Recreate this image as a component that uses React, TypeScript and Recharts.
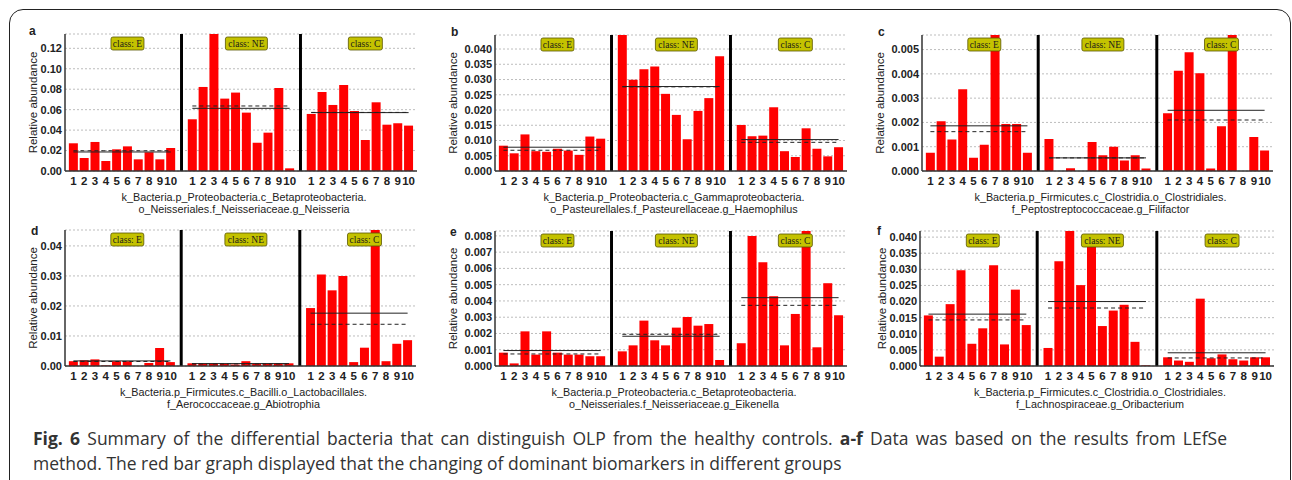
import { BarChart, Bar, XAxis, YAxis, CartesianGrid, ReferenceLine } from 'recharts';

const classes = ['E', 'NE', 'C'];
const sampleLabels = ['1', '2', '3', '4', '5', '6', '7', '8', '9', '10'];

// a — Neisseria
const neisseriaE = [0.0271, 0.0127, 0.0284, 0.0098, 0.0212, 0.0241, 0.0114, 0.0183, 0.0114, 0.0225];
const neisseriaNE = [0.0506, 0.0822, 0.14, 0.0708, 0.0767, 0.0571, 0.0277, 0.0375, 0.0812, 0.0026];
const neisseriaC = [0.0558, 0.0773, 0.0646, 0.0842, 0.0587, 0.0303, 0.0672, 0.0453, 0.0467, 0.0444];
const neisseriaMean = [0.0186, 0.0613, 0.0571];
const neisseriaMedian = [0.0198, 0.0636, 0.0573];
const neisseriaTicks = [0, 0.02, 0.04, 0.06, 0.08, 0.1, 0.12];

// b — Haemophilus
const haemophilusE = [0.0083, 0.0058, 0.012, 0.0065, 0.0063, 0.0073, 0.0067, 0.0053, 0.0113, 0.0106];
const haemophilusNE = [0.046, 0.0299, 0.0334, 0.0343, 0.0253, 0.0184, 0.0104, 0.0197, 0.0239, 0.0376];
const haemophilusC = [0.0151, 0.0114, 0.0116, 0.0209, 0.0065, 0.0046, 0.014, 0.0073, 0.0048, 0.0078];
const haemophilusMean = [0.0078, 0.0277, 0.0103];
const haemophilusMedian = [0.0068, 0.0276, 0.0094];
const haemophilusTicks = [0, 0.005, 0.01, 0.015, 0.02, 0.025, 0.03, 0.035, 0.04];

// c — Filifactor
const filifactorE = [0.00075, 0.00205, 0.0013, 0.00337, 0.00055, 0.00108, 0.0058, 0.00194, 0.00194, 0.00075];
const filifactorNE = [0.00132, 0, 0.00011, 0, 0.00119, 0.00065, 0.001, 0.00043, 0.00065, 0.0001];
const filifactorC = [0.00238, 0.00413, 0.00489, 0.00403, 0.0001, 0.00184, 0.0058, 0, 0.0014, 0.00084];
const filifactorMean = [0.00186, 0.00054, 0.0025];
const filifactorMedian = [0.00162, 0.00054, 0.0021];
const filifactorTicks = [0, 0.001, 0.002, 0.003, 0.004, 0.005];

// d — Abiotrophia
const abiotrophiaE = [0.0016, 0.0019, 0.0022, 0.0002, 0.0016, 0.0016, 0, 0.001, 0.006, 0.0013];
const abiotrophiaNE = [0.0009, 0.0008, 0.0008, 0.0007, 0.0005, 0.0016, 0.0008, 0.0008, 0.0009, 0.0009];
const abiotrophiaC = [0.0193, 0.0305, 0.0252, 0.03, 0.0013, 0.0061, 0.047, 0.0016, 0.0074, 0.0086];
const abiotrophiaMean = [0.0017, 0.0008, 0.0176];
const abiotrophiaMedian = [0.0015, 0.0007, 0.0139];
const abiotrophiaTicks = [0, 0.01, 0.02, 0.03, 0.04];

// e — Eikenella
const eikenellaE = [0.00082, 0.00016, 0.00213, 0.0007, 0.00213, 0.00082, 0.0007, 0.0007, 0.0006, 0.0006];
const eikenellaNE = [0.0009, 0.00127, 0.00279, 0.00158, 0.00127, 0.00236, 0.00302, 0.00248, 0.00258, 0.00037];
const eikenellaC = [0.0014, 0.008, 0.00638, 0.00429, 0.00127, 0.0032, 0.0085, 0.00115, 0.00509, 0.00312];
const eikenellaMean = [0.00095, 0.00183, 0.0042];
const eikenellaMedian = [0.00074, 0.00195, 0.00373];
const eikenellaTicks = [0, 0.001, 0.002, 0.003, 0.004, 0.005, 0.006, 0.007, 0.008];

// f — Oribacterium
const oribacteriumE = [0.0157, 0.0029, 0.0192, 0.0297, 0.0069, 0.0117, 0.0313, 0.0067, 0.0237, 0.0127];
const oribacteriumNE = [0.0056, 0.0325, 0.043, 0.0251, 0.0376, 0.0124, 0.0172, 0.019, 0.0075, 0.0002];
const oribacteriumC = [0.0027, 0.0017, 0.0013, 0.0209, 0.0024, 0.0036, 0.0021, 0.0017, 0.0027, 0.0027];
const oribacteriumMean = [0.0161, 0.02, 0.0041];
const oribacteriumMedian = [0.0143, 0.018, 0.0025];
const oribacteriumTicks = [0, 0.005, 0.01, 0.015, 0.02, 0.025, 0.03, 0.035, 0.04];

const SANS = '"Liberation Sans", Arial, sans-serif';
const AXIS_W = 60;
const TOP_M = 4;
const XAXIS_H = 22;
const tagWidths: Record<string, number> = { E: 33, NE: 42, C: 34 };

type Panel = {
  letter: string;
  left: number;
  top: number;
  width: number;
  height: number;
  yMax: number;
  ticks: number[];
  digits: number;
  titleGap: number;
  letterGap: number;
  letterDy: number;
  values: number[][];
  mean: number[];
  median: number[];
  taxon: [string, string];
};

const panels: Panel[] = [
  { letter: 'a', left: 65, top: 34, width: 352, height: 137, yMax: 0.134, ticks: neisseriaTicks, digits: 2, titleGap: 32, letterGap: 32, letterDy: -3,
    values: [neisseriaE, neisseriaNE, neisseriaC], mean: neisseriaMean, median: neisseriaMedian,
    taxon: ['k_Bacteria.p_Proteobacteria.c_Betaproteobacteria.', 'o_Neisseriales.f_Neisseriaceae.g_Neisseria'] },
  { letter: 'b', left: 495, top: 35, width: 352, height: 136, yMax: 0.0446, ticks: haemophilusTicks, digits: 3, titleGap: 42, letterGap: 40, letterDy: -3,
    values: [haemophilusE, haemophilusNE, haemophilusC], mean: haemophilusMean, median: haemophilusMedian,
    taxon: ['k_Bacteria.p_Proteobacteria.c_Gammaproteobacteria.', 'o_Pasteurellales.f_Pasteurellaceae.g_Haemophilus'] },
  { letter: 'c', left: 922, top: 35, width: 351, height: 136, yMax: 0.0056, ticks: filifactorTicks, digits: 3, titleGap: 42, letterGap: 40, letterDy: -3,
    values: [filifactorE, filifactorNE, filifactorC], mean: filifactorMean, median: filifactorMedian,
    taxon: ['k_Bacteria.p_Firmicutes.c_Clostridia.o_Clostridiales.', 'f_Peptostreptococcaceae.g_Filifactor'] },
  { letter: 'd', left: 65, top: 230, width: 351, height: 136, yMax: 0.0453, ticks: abiotrophiaTicks, digits: 2, titleGap: 32, letterGap: 30, letterDy: 1,
    values: [abiotrophiaE, abiotrophiaNE, abiotrophiaC], mean: abiotrophiaMean, median: abiotrophiaMedian,
    taxon: ['k_Bacteria.p_Firmicutes.c_Bacilli.o_Lactobacillales.', 'f_Aerococcaceae.g_Abiotrophia'] },
  { letter: 'e', left: 495, top: 231, width: 352, height: 135, yMax: 0.0083, ticks: eikenellaTicks, digits: 3, titleGap: 42, letterGap: 41, letterDy: 1,
    values: [eikenellaE, eikenellaNE, eikenellaC], mean: eikenellaMean, median: eikenellaMedian,
    taxon: ['k_Bacteria.p_Proteobacteria.c_Betaproteobacteria.', 'o_Neisseriales.f_Neisseriaceae.g_Eikenella'] },
  { letter: 'f', left: 920, top: 231, width: 354, height: 135, yMax: 0.0419, ticks: oribacteriumTicks, digits: 3, titleGap: 38, letterGap: 39, letterDy: 0,
    values: [oribacteriumE, oribacteriumNE, oribacteriumC], mean: oribacteriumMean, median: oribacteriumMedian,
    taxon: ['k_Bacteria.p_Firmicutes.c_Clostridia.o_Clostridiales.', 'f_Lachnospiraceae.g_Oribacterium'] },
];

type Row = { key: string; label: string; value: number | null };

function buildRows(values: number[][]): Row[] {
  const rows: Row[] = [];
  values.forEach((list, ci) => {
    if (ci > 0) rows.push({ key: `gap${ci}`, label: '', value: null });
    list.forEach((v, i) => rows.push({ key: `${classes[ci]}${i + 1}`, label: sampleLabels[i], value: v }));
  });
  return rows;
}

function ClassTag(props: any) {
  const { viewBox, cls } = props;
  if (!viewBox) return null;
  const w = tagWidths[cls];
  const cx = viewBox.x;
  const y = viewBox.y + 3;
  return (
    <g>
      <rect x={cx - w / 2} y={y} width={w} height={13} rx={2} fill="#c4c200" stroke="#595600" strokeWidth={0.8} />
      <text x={cx} y={y + 7} textAnchor="middle" dominantBaseline="central"
        fontFamily='"Liberation Serif", serif' fontSize={9.5} fill="#1a1a1a">{`class: ${cls}`}</text>
    </g>
  );
}

function YTitle(props: any) {
  const { viewBox, gap } = props;
  if (!viewBox) return null;
  const x = viewBox.x + viewBox.width - gap;
  const y = viewBox.y + viewBox.height / 2;
  return (
    <text x={x} y={y} transform={`rotate(-90 ${x} ${y})`} textAnchor="middle" dominantBaseline="central"
      fontFamily={SANS} fontSize={11.5} fill="#222">Relative abundance</text>
  );
}

function PanelChart({ p }: { p: Panel }) {
  const rows = buildRows(p.values);
  const labelByKey: Record<string, string> = {};
  rows.forEach((r) => (labelByKey[r.key] = r.label));
  const frame = { stroke: '#333', strokeWidth: 1.5 };
  const center = p.left + p.width / 2 + 3;
  const taxonTop = p.top + p.height + 20;

  return (
    <>
      <div style={{ position: 'absolute', left: p.left - p.letterGap - 4, top: p.top + p.letterDy - 7, fontFamily: SANS, fontWeight: 'bold', fontSize: 12, lineHeight: '14px', color: '#222' }}>
        {p.letter}
      </div>
      <div style={{ position: 'absolute', left: p.left - AXIS_W, top: p.top - TOP_M }}>
        <BarChart width={p.width + AXIS_W + 2} height={p.height + TOP_M + XAXIS_H} data={rows}
          margin={{ top: TOP_M, right: 2, bottom: 0, left: 0 }} barCategoryGap="8%">
          <CartesianGrid vertical={false} stroke="#bdbdbd" strokeDasharray="2 2" />
          <XAxis dataKey="key" interval={0} height={XAXIS_H} tickSize={0} tickMargin={6}
            padding={{ left: 3, right: 3 }} axisLine={frame}
            tickFormatter={(k: string) => labelByKey[k] ?? ''}
            tick={{ fontSize: 11.5, fontWeight: 'bold', fill: '#222', fontFamily: SANS }} />
          <XAxis xAxisId="top" orientation="top" dataKey="key" height={0} tick={false} tickLine={false}
            padding={{ left: 3, right: 3 }} axisLine={frame} />
          <YAxis type="number" domain={[0, p.yMax]} allowDataOverflow ticks={p.ticks} interval={0}
            width={AXIS_W} tickSize={0} tickMargin={3} axisLine={frame}
            tickFormatter={(v: number) => v.toFixed(p.digits)}
            tick={{ fontSize: 11, fontWeight: 'bold', fill: '#222', fontFamily: SANS }}
            label={<YTitle gap={p.titleGap} />} />
          <YAxis yAxisId="right" orientation="right" type="number" domain={[0, 1]} width={0}
            tick={false} tickLine={false} axisLine={frame} />
          <Bar dataKey="value" fill="#ff0000" isAnimationActive={false} />
          <ReferenceLine x="gap1" stroke="#000" strokeWidth={3} />
          <ReferenceLine x="gap2" stroke="#000" strokeWidth={3} />
          {classes.map((c, i) => (
            <ReferenceLine key={`m${c}`} segment={[{ x: `${c}1`, y: p.mean[i] }, { x: `${c}10`, y: p.mean[i] }]}
              stroke="#222" strokeWidth={1} />
          ))}
          {classes.map((c, i) => (
            <ReferenceLine key={`d${c}`} segment={[{ x: `${c}1`, y: p.median[i] }, { x: `${c}10`, y: p.median[i] }]}
              stroke="#222" strokeWidth={1} strokeDasharray="4 3" />
          ))}
          {classes.map((c) => (
            <ReferenceLine key={`t${c}`} x={`${c}6`} stroke="none" label={<ClassTag cls={c} />} />
          ))}
        </BarChart>
      </div>
      <div style={{ position: 'absolute', left: center - 200, width: 400, top: taxonTop, textAlign: 'center',
        fontFamily: SANS, fontSize: 10.8, lineHeight: '12px', color: '#222' }}>
        <div>{p.taxon[0]}</div>
        <div>{p.taxon[1]}</div>
      </div>
    </>
  );
}

export default function App() {
  const caption = { position: 'absolute' as const, left: 33, fontFamily: '"Open Sans", sans-serif', fontSize: 17.5, lineHeight: '25px', color: '#333' };
  return (
    <div style={{ position: 'absolute', left: 0, top: 0, width: 1292, height: 480, overflow: 'hidden', background: '#fff' }}>
      <div style={{ position: 'absolute', left: 9, top: 9, width: 1280, height: 520, border: '1.5px solid #222', borderRadius: 14 }} />
      {panels.map((p) => (
        <PanelChart key={p.letter} p={p} />
      ))}
      <div style={{ ...caption, top: 426, width: 1194, textAlign: 'justify', textAlignLast: 'justify' }}>
        <b>Fig. 6</b> Summary of the differential bacteria that can distinguish OLP from the healthy controls. <b>a-f</b> Data was based on the results from LEfSe
      </div>
      <div style={{ ...caption, top: 451, whiteSpace: 'nowrap' }}>
        method. The red bar graph displayed that the changing of dominant biomarkers in different groups
      </div>
    </div>
  );
}
